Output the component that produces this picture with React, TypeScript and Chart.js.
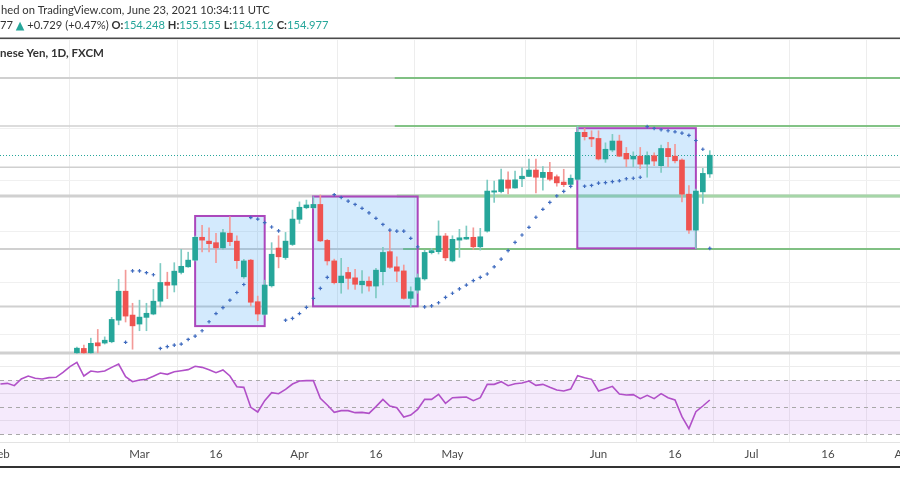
import React, { useEffect, useRef } from 'react';
import { Chart, registerables } from 'chart.js';
Chart.register(...registerables);

// ---------- DATA ----------
const FIRST_BAR = 11; // bar index of first visible candle (bar 0 = Feb 1, 2021, weekdays only)
const candleOpen = [
  147.28, 147.45, 147.28, 147.67, 147.66, 147.71, 148.55, 149.68, 148.75, 148.40,
  148.66, 148.79, 149.29, 150.03, 149.92, 150.41, 150.63, 150.89, 151.78, 151.63,
  151.57, 151.37, 151.94, 151.63, 150.24, 150.89, 149.27, 148.78, 149.89, 151.36,
  150.99, 151.50, 152.48, 152.93, 152.93, 153.06, 151.66, 150.86, 150.01, 150.41,
  150.20, 149.93, 150.07, 149.88, 150.44, 151.22, 150.63, 150.47, 149.40, 149.72,
  150.16, 151.18, 151.22, 151.83, 150.86, 151.67, 151.71, 151.78, 151.41, 152.02,
  153.54, 153.56, 154.01, 153.70, 154.06, 154.15, 154.40, 154.11, 154.31, 154.14,
  153.93, 153.84, 154.04, 155.87, 155.67, 155.63, 154.83, 155.18, 155.53, 155.05,
  154.83, 154.94, 154.63, 154.96, 154.57, 155.24, 154.94, 154.79, 153.46, 152.06,
  153.55, 154.248,
];
const candleHigh = [
  147.50, 147.58, 147.85, 148.19, 147.90, 148.66, 150.14, 150.50, 149.21, 149.33,
  149.21, 149.75, 150.76, 150.42, 150.79, 151.31, 151.20, 151.83, 152.25, 152.15,
  151.93, 152.09, 152.58, 151.84, 150.92, 150.92, 149.49, 150.11, 151.57, 151.84,
  151.97, 152.84, 153.16, 153.23, 153.36, 153.43, 151.70, 150.93, 150.96, 150.61,
  150.53, 150.48, 150.24, 150.57, 151.39, 152.03, 151.02, 150.70, 149.85, 150.35,
  151.28, 151.35, 152.42, 151.93, 151.84, 152.09, 152.22, 152.15, 152.13, 154.01,
  153.97, 154.44, 154.33, 154.36, 154.49, 154.83, 154.83, 154.53, 154.70, 154.21,
  154.43, 154.21, 156.11, 156.02, 155.93, 155.93, 155.46, 155.79, 155.76, 155.28,
  155.11, 155.28, 155.11, 155.07, 155.37, 155.48, 155.40, 154.84, 153.79, 153.66,
  154.47, 155.155,
];
const candleLow = [
  147.26, 147.26, 147.26, 147.28, 147.62, 147.67, 148.37, 148.48, 147.42, 148.14,
  148.14, 148.76, 149.07, 149.39, 149.65, 150.35, 150.61, 150.86, 151.21, 151.21,
  150.79, 151.31, 151.45, 150.57, 150.18, 149.10, 148.53, 148.75, 149.84, 150.59,
  150.92, 151.46, 152.32, 152.89, 152.91, 151.61, 150.70, 149.96, 149.60, 149.76,
  149.75, 149.60, 149.68, 149.42, 149.92, 150.57, 150.05, 149.37, 149.07, 149.60,
  150.11, 151.13, 151.13, 150.87, 150.82, 151.00, 151.70, 151.31, 151.28, 151.98,
  153.14, 153.51, 153.47, 153.69, 153.75, 154.15, 153.51, 153.62, 153.98, 153.77,
  153.75, 153.81, 154.01, 155.57, 155.31, 154.79, 154.70, 155.11, 154.92, 154.53,
  154.53, 154.45, 154.12, 154.57, 154.31, 154.53, 154.68, 153.16, 151.93, 151.35,
  153.10, 154.112,
];
const candleClose = [
  147.46, 147.28, 147.65, 147.55, 147.77, 148.58, 149.68, 148.71, 148.33, 148.67,
  148.82, 149.29, 150.02, 149.91, 150.46, 150.65, 150.89, 151.78, 151.67, 151.53,
  151.37, 151.96, 151.61, 150.87, 150.86, 149.25, 148.79, 149.92, 151.12, 151.02,
  151.63, 152.49, 152.95, 153.04, 153.06, 151.64, 150.86, 150.01, 150.27, 150.18,
  149.95, 150.07, 149.88, 150.50, 151.19, 150.61, 150.46, 149.40, 149.66, 150.20,
  151.19, 151.26, 151.83, 150.98, 151.70, 151.76, 151.78, 151.41, 151.80, 153.58,
  153.59, 154.02, 153.69, 154.02, 154.16, 154.40, 154.12, 154.31, 154.04, 153.90,
  153.83, 154.08, 155.87, 155.70, 155.61, 154.83, 155.21, 155.53, 154.94, 154.83,
  154.94, 154.63, 154.96, 154.75, 155.24, 154.92, 154.76, 153.46, 152.06, 153.58,
  154.27, 154.977,
];

const SAR_FIRST_BAR = 18;
const sarValues: (number | null)[] = [
  147.69, 150.47, 150.47, 150.40, 150.32, 147.45, 147.52, 147.58, 147.62, 147.80,
  147.93, 148.14, 148.49, 148.81, 149.04, 149.33, 149.63, 149.94, 152.55, 152.49,
  152.35, 152.18, 152.03, 148.55, 148.62, 148.81, 149.05, 149.40, 149.79, 150.22,
  153.44, 153.33, 153.19, 153.06, 152.91, 152.73, 152.52, 152.28, 152.06, 152.02,
  152.02, 151.74, 151.41, 149.07, 149.11, 149.23, 149.44, 149.60, 149.77, 149.92,
  150.09, 150.22, 150.35, 150.63, 150.93, 151.26, 151.58, 151.87, 152.17, 152.56,
  152.87, 153.14, 153.39, 153.57, 153.76, null, 153.77, 153.80, 153.89, 153.91,
  153.95, 153.98, 154.06, 154.08, 154.12, 156.09, 156.02, 155.97, 155.93, 155.89,
  155.84, 155.75, 155.55, 155.21, 151.35,
];

const rsiValues = [
  67.26, 67.75, 66.03, 70.96, 73.19, 71.46, 70.96, 71.95, 72.20, 75.90,
  80.10, 83.31, 73.19, 76.89, 76.15, 76.89, 79.60, 82.07, 72.69, 68.99,
  70.22, 70.72, 72.94, 75.41, 74.42, 76.39, 77.13, 77.88, 80.35, 79.60,
  77.88, 75.66, 77.63, 73.19, 65.28, 64.79, 49.98, 46.52, 54.92, 60.84,
  60.10, 63.31, 67.26, 69.48, 69.73, 69.73, 56.64, 51.71, 46.27, 47.51,
  47.51, 46.03, 46.27, 45.53, 50.47, 55.90, 50.96, 49.73, 42.82, 44.30,
  48.50, 55.90, 55.90, 59.61, 52.94, 57.14, 57.38, 57.63, 54.92, 57.14,
  67.01, 67.01, 68.99, 66.03, 67.51, 68.00, 69.48, 66.27, 67.01, 64.79,
  62.82, 62.07, 63.56, 73.43, 71.95, 70.72, 62.07, 63.80, 65.53, 59.85,
  59.11, 59.36, 56.40, 58.87, 56.40, 60.10, 57.14, 55.41, 43.06, 34.17,
  46.77, 50.96, 55.41,
];

const tickBars = [0, 20, 31, 43, 54, 65, 86, 97, 108, 119, 130];
const tickLabels = ['Feb', 'Mar', '16', 'Apr', '16', 'May', 'Jun', '16', 'Jul', '16', 'Aug'];
const priceGridValues = [148, 150, 152, 154, 156, 158];
const rsiGridValues = [40, 60, 80];
const rsiLevels = [70, 50, 30];
const rsiBand = [30, 70];

const grayLevels = [157.99, 156.12, 154.51, 153.39, 151.32, 149.08, 147.27];
const grayWidths = [2, 1.5, 1.5, 3, 2, 2, 3];
const greenLevels = [157.99, 156.12, 153.39, 151.32];
const greenStartBars = [56.7, 56.7, 57.0, 57.9];
const greenColors = ['#66bb6a', '#66bb6a', '#a5d6a7', '#66bb6a'];
const greenWidths = [1.5, 1.5, 3, 1.5];

const boxStartBars = [28, 44.95, 82.95];
const boxEndBars = [38, 60, 100];
const boxTopPrices = [152.61, 153.37, 156.03];
const boxBottomPrices = [148.32, 149.09, 151.35];

const lastPrice = 154.977;

const headerLine1 = 'hed on TradingView.com, June 23, 2021 10:34:11 UTC';
const headerLast = '77';
const headerChange = '+0.729 (+0.47%)';
const ohlcNames = ['O:', 'H:', 'L:', 'C:'];
const ohlcValues = ['154.248', '155.155', '154.112', '154.977'];
const symbolTitle = 'nese Yen, 1D, FXCM';

// ---------- SCALE BOUNDS ----------
const X_MIN = -0.0575;
const X_MAX = 129.35;
const P_MIN = 143.805;
const P_MAX = 159.466;
const R_MIN = 24.3;
const R_MAX = 322.07;

const UP = '#26a69a';
const DOWN = '#ef5350';
const UP_WICK = '#7fcbc3';
const DOWN_WICK = '#f39a98';
const TEXT = '#333333';
const FONT = 'Lato, "DejaVu Sans", sans-serif';

type Seg = { text: string; color: string; bold?: boolean };

function drawFitted(ctx: CanvasRenderingContext2D, segs: Seg[], x: number, y: number, target: number) {
  const base = 12;
  const measure = (size: number) =>
    segs.reduce((w, s) => {
      ctx.font = `${s.bold ? '700 ' : ''}${size}px ${FONT}`;
      return w + ctx.measureText(s.text).width;
    }, 0);
  let size = (base * target) / measure(base);
  size = Math.max(10, Math.min(14, size));
  let cx = x;
  ctx.textAlign = 'left';
  ctx.textBaseline = 'middle';
  segs.forEach((s) => {
    ctx.font = `${s.bold ? '700 ' : ''}${size}px ${FONT}`;
    ctx.fillStyle = s.color;
    ctx.fillText(s.text, cx, y);
    cx += ctx.measureText(s.text).width;
  });
}

const overlayPlugin = {
  id: 'tvOverlay',
  beforeDatasetsDraw(chart: any) {
    const { ctx, chartArea: a, scales } = chart;
    const xs = scales.x, ys = scales.y, rs = scales.rsi;
    ctx.save();
    // RSI background band
    const yTop = rs.getPixelForValue(rsiBand[1]);
    const yBot = rs.getPixelForValue(rsiBand[0]);
    ctx.fillStyle = 'rgba(170, 80, 230, 0.12)';
    ctx.fillRect(a.left, yTop, a.width, yBot - yTop);
    // RSI dashed levels
    ctx.setLineDash([4, 4]);
    ctx.strokeStyle = '#a8a8a8';
    ctx.lineWidth = 1;
    rsiLevels.forEach((v) => {
      const py = Math.round(rs.getPixelForValue(v)) + 0.5;
      ctx.beginPath();
      ctx.moveTo(a.left, py);
      ctx.lineTo(a.right, py);
      ctx.stroke();
    });
    ctx.setLineDash([]);
    // gray horizontal lines
    ctx.strokeStyle = '#d0d0d0';
    grayLevels.forEach((v, i) => {
      const py = ys.getPixelForValue(v);
      ctx.lineWidth = grayWidths[i];
      ctx.beginPath();
      ctx.moveTo(a.left, py);
      ctx.lineTo(a.right, py);
      ctx.stroke();
    });
    // green rays
    greenLevels.forEach((v, i) => {
      const py = ys.getPixelForValue(v);
      ctx.strokeStyle = greenColors[i];
      ctx.lineWidth = greenWidths[i];
      ctx.beginPath();
      ctx.moveTo(xs.getPixelForValue(greenStartBars[i]), py);
      ctx.lineTo(a.right, py);
      ctx.stroke();
    });
    // rectangles
    boxStartBars.forEach((b, i) => {
      const x1 = xs.getPixelForValue(b);
      const x2 = xs.getPixelForValue(boxEndBars[i]);
      const y1 = ys.getPixelForValue(boxTopPrices[i]);
      const y2 = ys.getPixelForValue(boxBottomPrices[i]);
      ctx.fillStyle = 'rgba(33, 150, 243, 0.2)';
      ctx.fillRect(x1, y1, x2 - x1, y2 - y1);
      ctx.strokeStyle = '#ab47bc';
      ctx.lineWidth = 2;
      ctx.strokeRect(x1, y1, x2 - x1, y2 - y1);
    });
    // current price dotted line
    const pp = Math.round(ys.getPixelForValue(lastPrice)) + 0.5;
    ctx.strokeStyle = UP;
    ctx.lineWidth = 1;
    ctx.setLineDash([1, 2]);
    ctx.beginPath();
    ctx.moveTo(a.left, pp);
    ctx.lineTo(a.right, pp);
    ctx.stroke();
    ctx.setLineDash([]);
    ctx.restore();
  },
  afterDraw(chart: any) {
    const { ctx, chartArea: a, scales } = chart;
    const xs = scales.x;
    ctx.save();
    // time axis top line
    ctx.fillStyle = '#e3e3e3';
    ctx.fillRect(0, a.bottom, chart.width, 1);
    // time labels
    ctx.font = `11.5px ${FONT}`;
    ctx.fillStyle = '#4a4a4a';
    ctx.textAlign = 'center';
    ctx.textBaseline = 'middle';
    tickBars.forEach((b, i) => {
      ctx.fillText(tickLabels[i], xs.getPixelForValue(b), a.bottom + 12);
    });
    // frame lines
    ctx.fillStyle = '#4a4a4a';
    ctx.fillRect(0, 37.5, chart.width, 1.6);
    ctx.fillStyle = '#333333';
    ctx.fillRect(0, 466, chart.width, 2);
    // header texts
    drawFitted(ctx, [{ text: headerLine1, color: TEXT }], 1, 10, 269);
    const segs: Seg[] = [
      { text: headerLast + ' ', color: TEXT },
      { text: '▲', color: UP },
      { text: ' ' + headerChange + ' ', color: TEXT },
    ];
    ohlcNames.forEach((n, i) => {
      segs.push({ text: n, color: TEXT, bold: true });
      segs.push({ text: ohlcValues[i], color: UP });
      if (i < ohlcNames.length - 1) segs.push({ text: ' ', color: TEXT });
    });
    drawFitted(ctx, segs, 0, 25, 329);
    drawFitted(ctx, [{ text: symbolTitle, color: TEXT, bold: true }], 0, 53, 104);
    ctx.restore();
  },
};

export default function App() {
  const canvasRef = useRef<HTMLCanvasElement | null>(null);

  useEffect(() => {
    const canvas = canvasRef.current;
    if (!canvas) return;

    const bodies = candleOpen.map((o, i) => ({ x: FIRST_BAR + i, y: [o, candleClose[i]] }));
    const wicks = candleOpen.map((o, i) => ({ x: FIRST_BAR + i, y: [candleLow[i], candleHigh[i]] }));
    const bodyColors = candleOpen.map((o, i) => (candleClose[i] >= o ? UP : DOWN));
    const wickColors = candleOpen.map((o, i) => (candleClose[i] >= o ? UP_WICK : DOWN_WICK));
    const sarPts = sarValues.map((v, i) => ({ x: SAR_FIRST_BAR + i, y: v }));
    const rsiPts = rsiValues.map((v, i) => ({ x: i, y: v }));

    const chart = new Chart(canvas, {
      type: 'bar',
      data: {
        datasets: [
          {
            type: 'line',
            data: sarPts as any,
            yAxisID: 'y',
            showLine: false,
            pointStyle: 'cross',
            pointRadius: 1.8,
            pointBorderWidth: 1.2,
            pointBorderColor: '#3f6bbf',
            pointBackgroundColor: '#3f6bbf',
            order: 0,
          } as any,
          {
            type: 'bar',
            data: bodies as any,
            yAxisID: 'y',
            backgroundColor: bodyColors,
            barThickness: 5,
            minBarLength: 1,
            grouped: false,
            borderWidth: 0,
            order: 1,
          } as any,
          {
            type: 'bar',
            data: wicks as any,
            yAxisID: 'y',
            backgroundColor: wickColors,
            barThickness: 1,
            grouped: false,
            borderWidth: 0,
            order: 2,
          } as any,
          {
            type: 'line',
            data: rsiPts as any,
            yAxisID: 'rsi',
            borderColor: '#b150c8',
            borderWidth: 1.6,
            pointRadius: 0,
            tension: 0,
            order: 3,
          } as any,
        ],
      },
      options: {
        animation: false,
        responsive: false,
        events: [],
        layout: { autoPadding: false, padding: { top: 40, bottom: 58, left: 0, right: 0 } },
        plugins: { legend: { display: false }, tooltip: { enabled: false }, title: { display: false } },
        scales: {
          x: {
            type: 'linear',
            min: X_MIN,
            max: X_MAX,
            offset: false,
            afterBuildTicks: (s: any) => {
              s.ticks = tickBars.filter((v) => v >= s.min && v <= s.max).map((v) => ({ value: v }));
            },
            ticks: { display: false },
            grid: { color: '#ededed', drawTicks: false, lineWidth: 1 },
            border: { display: false },
          },
          y: {
            type: 'linear',
            position: 'right',
            min: P_MIN,
            max: P_MAX,
            afterBuildTicks: (s: any) => {
              s.ticks = priceGridValues.map((v) => ({ value: v }));
            },
            ticks: { display: false },
            grid: { color: '#f0f0f0', drawTicks: false },
            border: { display: false },
          },
          rsi: {
            type: 'linear',
            position: 'right',
            min: R_MIN,
            max: R_MAX,
            afterBuildTicks: (s: any) => {
              s.ticks = rsiGridValues.map((v) => ({ value: v }));
            },
            ticks: { display: false },
            grid: { color: '#ececec', drawTicks: false },
            border: { display: false },
          },
        },
      } as any,
      plugins: [overlayPlugin],
    });
    return () => chart.destroy();
  }, []);

  return (
    <div style={{ position: 'fixed', left: 0, top: 0, width: 900, height: 500, background: '#ffffff', overflow: 'hidden' }}>
      <canvas ref={canvasRef} width={900} height={500} style={{ position: 'absolute', left: 0, top: 0, width: 900, height: 500 }} />
    </div>
  );
}
